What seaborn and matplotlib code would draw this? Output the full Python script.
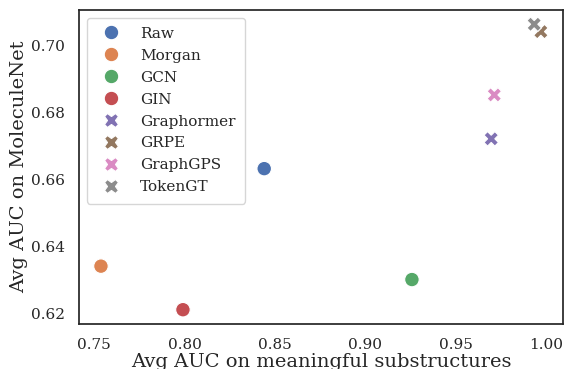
import matplotlib
matplotlib.use("Agg")
import matplotlib.pyplot as plt
import seaborn as sns
import pandas as pd

models = ["Raw", "Morgan", "GCN", "GIN", "Graphormer", "GRPE", "GraphGPS", "TokenGT"]
substructure_auc = [0.8441, 0.7537, 0.9259, 0.7991, 0.9698, 0.9973, 0.9715, 0.9936]
moleculenet_auc = [0.6632, 0.6341, 0.6301, 0.6211, 0.6721, 0.7041, 0.6852, 0.7063]
marker_list = ["o", "o", "o", "o", "X", "X", "X", "X"]

df = pd.DataFrame({"Model": models, "x": substructure_auc, "y": moleculenet_auc})

sns.set_theme(style="white", font="DejaVu Serif")
plt.rcParams["font.family"] = ["DejaVu Serif"]

fig, ax = plt.subplots(figsize=(5.64, 3.69), dpi=100)
sns.scatterplot(data=df, x="x", y="y", hue="Model", style="Model",
                markers=marker_list, s=110, palette="deep", ax=ax)
ax.set_xlabel("Avg AUC on meaningful substructures", fontsize=14, labelpad=1)
ax.set_ylabel("Avg AUC on MoleculeNet", fontsize=14)
ax.yaxis.set_label_coords(-0.105, 0.5)
ax.tick_params(labelsize=11, pad=4)
ax.set_xticks([0.75, 0.80, 0.85, 0.90, 0.95, 1.00])
ax.set_yticks([0.62, 0.64, 0.66, 0.68, 0.70])
leg = ax.legend(loc="upper left", fontsize=11, markerscale=1.0,
                handletextpad=0.9, labelspacing=0.52, borderpad=0.6)
plt.subplots_adjust(left=0.14, right=0.998, top=0.973, bottom=0.122)
fig.savefig("out.png", dpi=100)
